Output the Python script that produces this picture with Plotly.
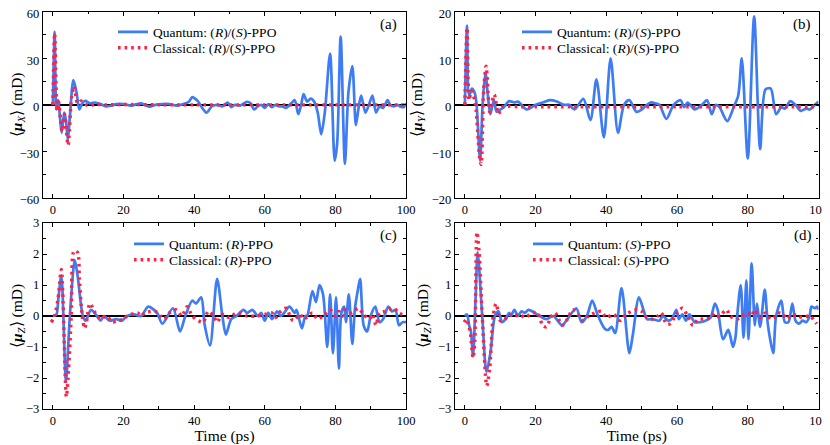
import plotly.graph_objects as go

# ---------------- data ----------------
# Panel (a): <mu_X>
ta_q = [0, 0.5, 1.0, 1.5, 2.0, 2.5, 3.2, 3.7, 4.2, 4.8, 5.8, 6.7, 7.5, 8.3, 9.2, 10.5, 12, 13.5, 15, 16.5,
        18, 20, 22, 23.5, 25, 26.5, 27.5, 29, 31, 33, 35, 37, 38.5, 39.5, 40.5, 41.2, 42.3, 43.5, 45, 46.5,
        48, 49.5, 50.5, 51.5, 53, 55, 56, 57, 58, 59, 60, 61, 62, 63, 64, 65, 66, 67.5, 68.5, 69.5,
        70.3, 71, 72, 73, 74, 75, 76, 77, 78.5, 79.8, 80.5, 81.5, 82.7, 83.7, 84.8, 85.8, 86.5, 87.3, 88.5, 89.5,
        90.5, 91.5, 92.5, 93.5, 94.8, 95.5, 96.5, 97.5, 98.3, 99.3, 100]
va_q = [0, 47, -3, 3, -8, -18, -5, -10, -22, -8, 16, 8, -3, 1, 2.5, 1, 1.5, 0.5, -1, -0.5,
        0.5, 0.5, -0.5, 0.3, 1, -0.5, -1.2, 0, 0.5, 0.5, -0.5, 0.5, 2, 5, 3.5, 2, -2, -5, -1, 0,
        -1, 1.5, -1.5, 0, -0.5, 2, 1, -3, -1, 0, -2, 0.5, -1.5, 0, -1, -1, -2, 1, 3, -6,
        0, 7, 2, 4, 2, -5, -19, -5, 33, -36, -25, 44, -38, 8, 25, -13, -3, 6, -5, 0,
        6, -5, -1, -2, 3, 0, -1, 0, -1, -1.5, 1]
ta_c = [0, 0.5, 1.2, 1.6, 2.6, 3.3, 4.3, 5.3, 6.0, 7.0, 8.0, 9.0, 10, 12, 15, 20, 30, 40, 50, 60, 70, 80, 90, 100]
va_c = [0, 46, -4, 2, -17, -6, -26, 5, 12, 1, 2.5, 0.5, -0.5, 0.3, 0, 0.2, 0, 0, 0, 0, 0, 0, 0, 0]

# Panel (b): <mu_Y>
tb_q = [0, 0.6, 1.2, 2, 2.8, 3.3, 4.3, 5, 5.8, 6.5, 7.2, 8.2, 9, 10, 11, 12.5, 14, 15, 17.5, 20,
        22, 24, 26, 28, 29.5, 31, 33.5, 35.5, 37.2, 39.3, 41.2, 43.3, 45, 46.5, 48.5, 50, 52.5, 54, 55, 57,
        59, 61, 62, 63, 65, 67, 68.5, 69.8, 71, 72, 74.2, 76, 77.3, 78.3, 80, 81.8, 83.5, 85, 86.5, 88,
        89.5, 90.5, 92, 93.5, 95, 96.5, 97.5, 99, 100]
vb_q = [0, 17, 2, 3.5, 2.5, 0, -12, 0, 7, 2, -2, 1, -1.5, -1, -0.5, 0.8, 0.5, 0.7, -1, 0,
        0.5, 1, 0.7, 0, 0, -1, 1.3, -3.3, 5.5, -7, 10, -6, 0, 1, -1.5, -1, 0.5, 0.3, 0, -3,
        0, 1, -0.5, 0.5, -1, 0, 1, -2, 0, -0.5, -3.5, -0.5, 2, 10, -11.5, 19, -9.5, 3.3, 3.5, -2,
        -0.5, -0.8, 0.8, 0, -1.3, -0.8, -1, 0, 0.7]
tb_c = [0, 0.6, 1.2, 1.8, 2.4, 3, 4.2, 4.6, 5.3, 6, 7, 7.5, 8.3, 9.5, 10.5, 12, 15, 20, 30, 40, 50, 60, 70, 80, 90, 100]
vb_c = [0, 16.5, 1, 3, 2, 0, -11.5, -12.8, 3, 8.3, -1.5, 0, 2.2, -1.9, -0.5, -0.3, -0.4, -0.4, -0.4, -0.4,
        -0.4, -0.4, -0.4, -0.4, -0.4, -0.4]

# Panel (c): <mu_Z>, (R)-PPO
tc_q = [0, 1, 1.5, 2.4, 3.7, 4.8, 6.2, 7, 8.5, 9.3, 10.8, 12.5, 13.5, 14.5, 16, 18, 19.5, 21, 23, 25,
        27, 29.5, 31, 34, 36, 37.5, 39.5, 40.5, 42, 43, 44.5, 46.5, 48, 49, 50.5, 52, 54, 55, 56.5, 58,
        59, 60, 61, 62, 63.5, 64.5, 65.5, 67, 68.5, 69, 70.5, 71.5, 72, 73.5, 74.5, 75.5, 76.5, 77.7, 78.5, 79.3,
        80.2, 81, 81.7, 82.5, 83, 83.8, 84.8, 85.5, 86.3, 87, 88, 89, 90, 91.3, 92.5, 93.5, 95, 96, 97, 98,
        99, 100]
vc_q = [0, 0.05, 0.5, 1.3, -2.1, 0, 1.8, 1.3, 0, -0.15, 0.2, 0, -0.15, 0, -0.15, -0.1, -0.15, 0, 0.05, 0,
        0.3, 0.1, -0.25, 0.25, -0.5, 0, 0.5, 0.4, 0.6, -0.3, -0.95, 1.2, 0, -0.6, -0.1, 0, 0.2, 0.1, 0.2, 0,
        0.1, -0.15, 0.1, -0.1, 0.15, 0, 0.1, 0.3, 0.1, 0.2, -0.4, 0, 0, 0.8, 0.45, 1.0, 0.7, -1.0, 0.7, -1.2,
        0.6, -1.7, 0.1, 0.3, -0.2, 0.7, -0.9, 0.2, 0.8, 1.2, -0.3, -0.5, 0, 0.3, -0.2, -0.1, 0.3, 0.15, 0.2, -0.3,
        -0.2, -0.2]
tc_c = [-0.5, 0.5, 1.5, 2.4, 3.8, 4.3, 5.2, 6.0, 7.0, 7.5, 8.3, 9.0, 9.5, 10.5, 12, 13.5, 15, 17, 18, 20,
        21, 24, 25, 26, 29, 30.5, 31.5, 33, 35, 36.5, 38, 39.5, 42.5, 44, 45.5, 46.5, 48, 50, 52, 55,
        58, 60, 62, 63, 64.5, 66, 68, 70, 71, 73.5, 75, 77, 78.5, 80, 81, 82, 82.5, 84.5, 86.5, 88,
        89.5, 90.5, 91.5, 92.5, 94, 96.5, 98, 100]
vc_c = [-0.2, 0, 0.6, 1.5, -2.6, -2, 0, 2.1, 2.05, 1.2, 0, -0.4, -0.2, 0.4, 0.1, -0.1, 0, -0.2, -0.15, -0.1,
        0, 0.1, 0, 0.1, 0.15, 0, -0.1, 0.1, 0.2, 0, 0.3, 0, -0.2, 0.15, 0, -0.2, 0.05, -0.05, 0.1, 0,
        0, 0.05, 0.1, -0.05, 0.15, 0.25, -0.15, 0.05, -0.1, 0.1, -0.1, 0.05, 0.2, 0, 0.15, 0, 0.2, 0.1, 0.25, 0.05,
        -0.1, 0.05, -0.3, 0.1, 0.15, 0.25, 0.1, 0]

# Panel (d): <mu_Z>, (S)-PPO
td_q = [0, 0.6, 1.2, 1.7, 2.3, 3, 3.6, 4.9, 6.1, 7.2, 8.5, 9.5, 10.5, 11.5, 12.5, 13, 14, 15, 16, 17,
        18, 20.5, 23, 25, 27.5, 29, 31.5, 33, 34.5, 36, 37.5, 39.5, 40.5, 41.5, 42.5, 44.3, 46.5, 47.5, 49.2, 50.5,
        51.5, 53, 55, 56, 57.5, 58.5, 59.8, 60.5, 61.5, 62.5, 63.5, 65, 66.5, 68, 69.5, 70.7, 71.5, 73, 74.5, 75.8,
        76.5, 77, 78, 78.8, 79.6, 80.2, 81.1, 82, 82.6, 83.5, 84.8, 85.6, 86.4, 87.2, 88, 89.5, 90.5, 91.5, 92.6, 93.5,
        94.5, 95.5, 96.5, 97.5, 98, 99, 99.7, 100]
vd_q = [0, 0.05, -0.3, -0.5, -1.3, 0.5, 2.05, 0, -1.8, -1.2, 0, 0.15, -0.2, -0.1, 0.1, 0, 0.2, 0, 0.15, 0.1,
        0.2, 0.05, -0.1, 0, -0.3, -0.1, 0.25, -0.2, 0, 0.5, 0.05, -0.4, -0.45, -0.35, -0.55, 0.9, -1.2, -0.6, 0.6, 0.2,
        -0.1, -0.1, -0.15, 0, -0.15, -0.1, 0.2, -0.1, 0.05, -0.15, 0.05, -0.2, -0.2, -0.15, -0.05, 0.4, 0.2, -0.75, -0.45, -1.0,
        -0.7, 0, 1.0, -0.7, 1.15, -0.75, 1.7, -0.3, 0.4, -0.35, 0.85, -0.2, -0.8, -1.2, 0, 0.5, -0.2, -0.2, 0.4, -0.15,
        -0.25, -0.15, -0.2, 0, 0.3, 0.25, 0.3, 0.2]
td_c = [-0.2, 0.5, 1, 1.5, 2.3, 2.8, 3.4, 4, 4.9, 6.2, 7, 8, 8.8, 9.3, 10, 11, 12.5, 14, 15.5, 17,
        19, 20.5, 22, 23, 24.5, 25.5, 26.5, 27.5, 29, 30.5, 32, 33.5, 35, 38.5, 40, 42, 44, 45.5, 48.5, 50,
        51.5, 53, 54.5, 55.5, 57, 58, 60, 61.5, 63, 64.5, 66, 68.5, 70, 71, 72.5, 74, 75, 77, 78.5, 80,
        81, 82, 83.5, 85, 86.5, 87.5, 88.5, 90, 91, 92.5, 94, 95.5, 97.5, 99.5]
vd_c = [-0.2, -0.1, -0.3, -0.5, -1.35, -0.8, 2.7, 2.1, 0, -2.25, -1.7, 0, 0.4, 0.2, -0.15, -0.15, 0.05, 0, 0.05, -0.05,
        0.1, 0.1, -0.3, -0.35, 0, 0.1, -0.1, -0.3, -0.1, 0.2, 0.05, -0.15, 0, 0.15, -0.05, 0.05, -0.15, 0.05, 0.2, 0.15,
        -0.05, -0.1, 0, 0.1, -0.25, -0.25, 0.1, 0.25, 0, -0.3, -0.1, -0.1, 0.05, -0.05, 0.05, 0.2, 0, -0.1, 0, 0.1,
        0, 0.2, -0.05, 0.1, -0.1, -0.05, 0.1, 0.05, -0.1, 0.05, 0, -0.05, 0, -0.25]

x_ticks = [0, 20, 40, 60, 80, 100]
panel_labels = ["(a)", "(b)", "(c)", "(d)"]
y_titles = ["⟨<b><i>μ</i></b><sub><i>X</i></sub>⟩ (mD)", "⟨<b><i>μ</i></b><sub><i>Y</i></sub>⟩ (mD)",
            "⟨<b><i>μ</i></b><sub><i>Z</i></sub>⟩ (mD)", "⟨<b><i>μ</i></b><sub><i>Z</i></sub>⟩ (mD)"]
q_names = ["Quantum: (<i>R</i>)/(<i>S</i>)-PPO", "Quantum: (<i>R</i>)/(<i>S</i>)-PPO",
           "Quantum: (<i>R</i>)-PPO", "Quantum: (<i>S</i>)-PPO"]
c_names = ["Classical: (<i>R</i>)/(<i>S</i>)-PPO", "Classical: (<i>R</i>)/(<i>S</i>)-PPO",
           "Classical: (<i>R</i>)-PPO", "Classical: (<i>S</i>)-PPO"]
y_ranges = [[-60, 60], [-20, 20], [-3, 3], [-3, 3]]
y_dticks = [30, 10, 1, 1]

# ---------------- figure ----------------
OFF = 8                      # page body margin
W, H = 830 - OFF, 445 - OFF
FONT = "Liberation Serif, Times New Roman, serif"
BLUE = "#3d7cf5"
RED = "#ff2244"

series = [(ta_q, va_q, ta_c, va_c), (tb_q, vb_q, tb_c, vb_c),
          (tc_q, vc_q, tc_c, vc_c), (td_q, vd_q, td_c, vd_c)]

# plot-area boxes in window pixels: (left, right, top, bottom)
boxes = [(43, 406, 11.7, 198), (455, 818.5, 11.7, 198),
         (43, 406, 223, 409), (455, 818.5, 223, 409)]
legend_text_x = [154, 558, 170, 569]          # window x where legend text starts
legend_row_y = [32, 32, 244, 244]             # window y of first legend row
label_pos = [(388, 25), (802, 25), (388, 235), (803, 235)]


def fx(px):
    return (px - OFF) / W


def fy(py):
    return 1 - (py - OFF) / H


fig = go.Figure()
for i, (tq, vq, tcl, vcl) in enumerate(series):
    k = "" if i == 0 else str(i + 1)
    lq = "legend" + ("" if i == 0 else str(2 * i + 1))
    lc = "legend" + str(2 * i + 2)
    fig.add_trace(go.Scatter(x=tq, y=vq, mode="lines", name=q_names[i],
                             line=dict(color=BLUE, width=2.7, shape="spline", smoothing=0.8),
                             xaxis="x" + k, yaxis="y" + k, legend=lq))
    fig.add_trace(go.Scatter(x=tcl, y=vcl, mode="lines", name=c_names[i],
                             line=dict(color=RED, width=3.4, dash="2.6px,4px", shape="spline", smoothing=0.8),
                             xaxis="x" + k, yaxis="y" + k, legend=lc))
    l, r, t, b = boxes[i]
    axstyle = dict(showline=True, linecolor="black", linewidth=1.3, mirror="allticks",
                   ticks="inside", ticklen=4, tickwidth=1, tickcolor="black", automargin=False,
                   ticklabeloverflow="allow",
                   showgrid=False, tickfont=dict(family=FONT, size=12.5, color="black"))
    xa = dict(axstyle, domain=[fx(l), fx(r)], range=[-2.8, 100], tickvals=x_ticks,
              zeroline=False, anchor="y" + k,
              minor=dict(ticks="inside", ticklen=2.5, dtick=10, tick0=0, tickcolor="black"))
    if i >= 2:
        xa["title"] = dict(text="Time (ps)", font=dict(family=FONT, size=15.5, color="black"), standoff=3)
    ya = dict(axstyle, domain=[fy(b), fy(t)], range=y_ranges[i], dtick=y_dticks[i], tick0=0,
              zeroline=True, zerolinecolor="black", zerolinewidth=1.5, anchor="x" + k,
              ticklabelshift=2 if i < 2 else 0,
              minor=dict(ticks="inside", ticklen=2.5, dtick=y_dticks[i] / 2, tick0=0, tickcolor="black"),
              title=dict(text=y_titles[i], font=dict(family=FONT, size=15.5, color="black"), standoff=5))
    fig.layout["xaxis" + k] = xa
    fig.layout["yaxis" + k] = ya
    for j, lg in enumerate([lq, lc]):
        fig.layout[lg] = dict(x=fx(legend_text_x[i] - 41), y=fy(legend_row_y[i] + 16 * j),
                              xanchor="left", yanchor="middle",
                              bgcolor="rgba(0,0,0,0)", font=dict(family=FONT, size=13.5, color="black"),
                              itemwidth=30)
    px, py = label_pos[i]
    fig.add_annotation(x=fx(px), y=fy(py), xref="paper", yref="paper", text=panel_labels[i],
                       showarrow=False, xanchor="center", yanchor="middle",
                       font=dict(family=FONT, size=15, color="black"))

fig.update_layout(width=W, height=H, autosize=False, margin=dict(l=0, r=0, t=0, b=0),
                  paper_bgcolor="white", plot_bgcolor="white", showlegend=True)
fig.write_html("out.html")
